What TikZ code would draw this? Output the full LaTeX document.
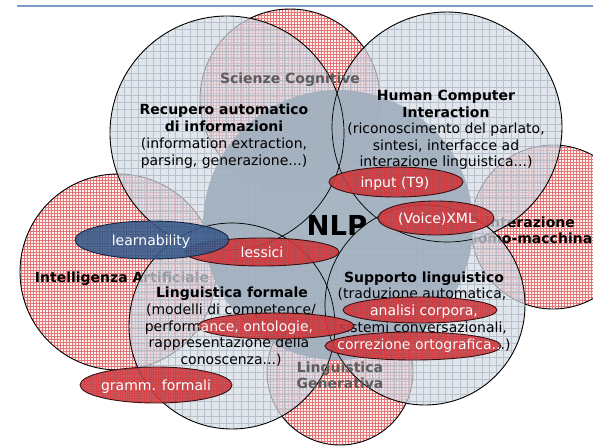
\documentclass[tikz,border=0pt]{standalone}
\usepackage{fontspec}
\setmainfont{DejaVu Sans}
\definecolor{redbg}{HTML}{FDF3F3}
\definecolor{redgrid}{HTML}{E67474}
\definecolor{bluebg}{HTML}{D5DCE5}
\definecolor{bluegrid}{HTML}{A7B3C1}
\definecolor{nlpfill}{HTML}{A2B0BF}
\definecolor{ellred}{HTML}{BF4247}
\definecolor{ellredgrid}{HTML}{E8262B}
\definecolor{ellredborder}{HTML}{3B1112}
\definecolor{ellblue}{HTML}{2B4C7A}
\definecolor{ellbluegrid}{HTML}{5577AA}
\definecolor{ellblueborder}{HTML}{14263F}
\definecolor{greytext}{HTML}{5C5C5C}
\definecolor{topline}{HTML}{7A9CC6}
\newcommand\redcirc[3]{%
  \begin{scope}
    \clip (#1,#2) circle[radius=#3pt];
    \fill[redbg] (#1-#3,#2-#3) rectangle (#1+#3,#2+#3);
    \draw[redgrid, line width=0.4pt, step=3pt] (#1-#3,#2-#3) grid (#1+#3,#2+#3);
  \end{scope}
  \draw[bord] (#1,#2) circle[radius=#3pt];}
\newcommand\bluecirc[3]{%
  \begin{scope}
    \clip (#1,#2) circle[radius=#3pt];
    \fill[bluebg, fill opacity=0.7] (#1-#3,#2-#3) rectangle (#1+#3,#2+#3);
    \draw[bluegrid, line width=0.5pt, step=7.3pt, draw opacity=0.7] (#1-#3,#2-#3) grid (#1+#3,#2+#3);
  \end{scope}
  \draw[bord] (#1,#2) circle[radius=#3pt];}
\newcommand\ellshape[5]{%
  \begin{scope}
    \clip (#1,#2) ellipse[x radius=#3pt, y radius=#4pt];
    \fill[#5, fill opacity=0.86] (#1-#3,#2-#4) rectangle (#1+#3,#2+#4);
    \draw[#5grid, line width=0.5pt, step=2.4pt, draw opacity=0.45] (#1-#3,#2-#4) grid (#1+#3,#2+#4);
  \end{scope}
  \draw[#5border, line width=0.9pt] (#1,#2) ellipse[x radius=#3pt, y radius=#4pt];}
\begin{document}
\begin{tikzpicture}[x=1pt, y=-1pt,
  bord/.style={draw=black, line width=0.9pt},
  lbl/.style={anchor=base, inner sep=0pt, font=\fontsize{14}{17}\selectfont},
  blbl/.style={anchor=base, inner sep=0pt, font=\fontsize{14}{17}\selectfont\bfseries},
  wlbl/.style={lbl, text=white},
  glbl/.style={blbl, text=greytext}]
\useasboundingbox (0,0) rectangle (593,447);
\fill[white] (0,0) rectangle (593,447);
\draw[topline, line width=1.3pt] (17,6) -- (593,6);

% red circles
\redcirc{290}{99}{90}
\redcirc{118}{272}{98}
\redcirc{553}{227}{82}
\redcirc{340}{372}{73}

% labels under the blue circles
\node[blbl] (ia) at (122,282) {Intelligenza Artificiale};
\node[blbl] (um1) at (530,227) {Interazione};
\node[blbl] (um2) at (530,243) {uomo-macchina};

% blue circles
\bluecirc{227}{133}{117}
\bluecirc{447}{127}{115}
\bluecirc{232}{326}{103}
\bluecirc{425}{305}{100}

% NLP circle
\fill[nlpfill, fill opacity=0.93] (338,225) circle[radius=135pt];

% borders visible through NLP
\begin{scope}
  \clip (338,225) circle[radius=135pt];
  \draw[black, line width=0.7pt] (227,133) circle[radius=117pt];
  \draw[black, line width=0.7pt] (447,127) circle[radius=115pt];
  \draw[black, line width=0.7pt] (232,326) circle[radius=103pt];
  \draw[black, line width=0.7pt] (425,305) circle[radius=100pt];
\end{scope}

% grey labels
\node[glbl] (sc) at (290,83) {Scienze Cognitive};
\node[glbl] (lg1) at (340,372) {Linguistica};
\node[glbl] (lg2) at (340,388) {Generativa};

% black texts
\node[blbl] (r1) at (224,114) {Recupero automatico};
\node[blbl] (r2) at (224,131) {di informazioni};
\node[lbl] (r3) at (224,148) {(information extraction,};
\node[lbl] (r4) at (224,165) {parsing, generazione...)};

\node[blbl] (h1) at (446,100) {Human Computer};
\node[blbl] (h2) at (446,117) {Interaction};
\node[lbl] (h3) at (446,133) {(riconoscimento del parlato,};
\node[lbl] (h4) at (446,150) {sintesi, interfacce ad};
\node[lbl] (h5) at (446,166) {interazione linguistica...)};

\node[anchor=base, inner sep=0pt, font=\fontsize{27.5}{30}\selectfont\bfseries] (nlp) at (337,235) {NLP};

\node[blbl] (f1) at (232,297) {Linguistica formale};
\node[lbl] (f2) at (231,314) {(modelli di competence/};
\node[lbl] (f3) at (229,331) {performance, ontologie,};
\node[lbl] (f4) at (229,347) {rappresentazione della};
\node[lbl] (f5) at (231,364) {conoscenza...)};

\node[blbl] (s1) at (424,282) {Supporto linguistico};
\node[lbl] (s2) at (422,298) {(traduzione automatica,};
\node[lbl] (s4) at (423,332) {sistemi conversazionali,};
\node[lbl] (s5) at (424,349) {correzione ortografica...)};

% ellipses
\ellshape{396}{182}{67}{15}{ellred}
\ellshape{436}{218}{58}{17}{ellred}
\ellshape{262}{252}{77}{14}{ellred}
\ellshape{152}{240}{77}{19}{ellblue}
\ellshape{156}{385}{76}{18}{ellred}
\ellshape{276}{326}{78}{13}{ellred}
\ellshape{420}{310}{77}{13}{ellred}
\ellshape{413}{346}{88}{14}{ellred}

% white texts
\node[wlbl] (e1) at (395,187) {input (T9)};
\node[wlbl] (e2) at (437,223) {(Voice)XML};
\node[wlbl] (e3) at (262,257) {lessici};
\node[wlbl] (e4) at (151,245) {learnability};
\node[wlbl] (e5) at (156,390) {gramm. formali};
\node[wlbl] (s3) at (424,315) {analisi corpora,};
\begin{scope}
  \clip (276,326) ellipse[x radius=78pt, y radius=13pt];
  \node[wlbl] (f3w) at (229,331) {performance, ontologie,};
\end{scope}
\begin{scope}
  \clip (413,346) ellipse[x radius=88pt, y radius=14pt];
  \node[wlbl] (s5w) at (424,349) {correzione ortografica...)};
\end{scope}
\end{tikzpicture}
\end{document}
